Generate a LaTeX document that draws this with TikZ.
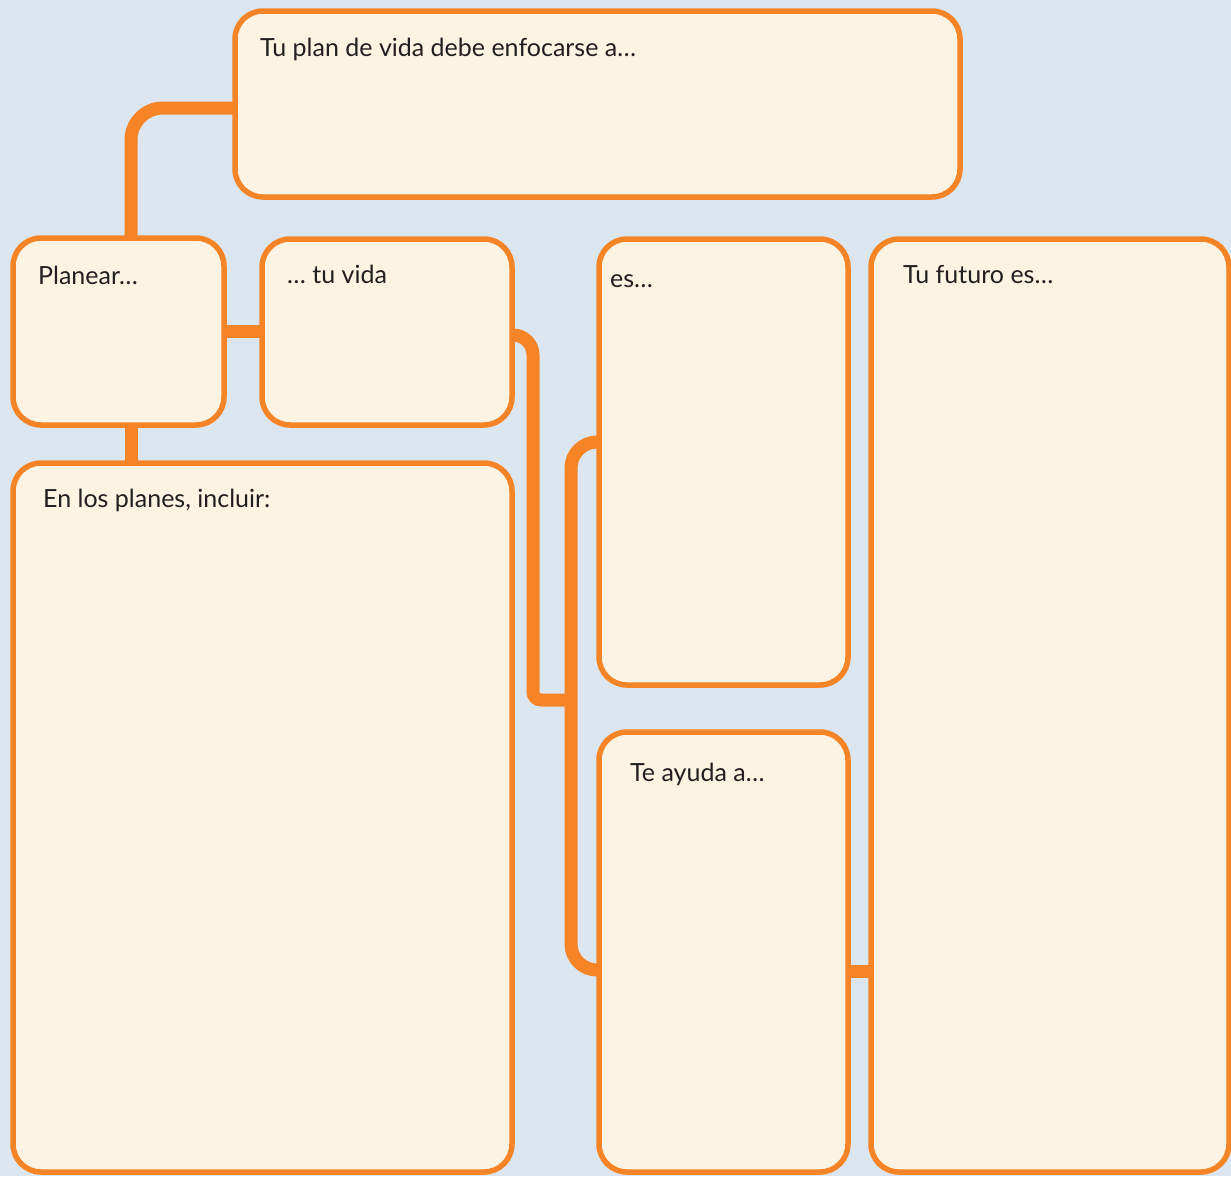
\documentclass[tikz,border=0pt]{standalone}
\usepackage{fontspec}
\setmainfont{Lato}
\usetikzlibrary{calc}
\definecolor{bg}{HTML}{DCE6F1}
\definecolor{boxfill}{HTML}{FDF3E3}
\definecolor{orng}{HTML}{F58426}
\definecolor{ink}{HTML}{231F20}
\pgfdeclarelayer{backmost}
\pgfdeclarelayer{middle}
\pgfsetlayers{backmost,middle,main}
\begin{document}
\begin{tikzpicture}[x=1pt,y=-1pt,
  box/.style={draw=orng, fill=boxfill, line width=5.5pt, rounded corners=28pt,
    inner sep=0pt, outer sep=0pt, anchor=north west, rectangle},
  conn/.style={draw=orng, line width=13pt},
  lbl/.style={anchor=base west, inner sep=0pt, text=ink,
    font=\fontsize{25}{29}\selectfont}]
\begin{pgfonlayer}{backmost}
\fill[bg] (0,0) rectangle (1231,1176);
\end{pgfonlayer}
\useasboundingbox (0,0) rectangle (1231,1176);
% boxes
\node[box, minimum width=725pt, minimum height=186pt] (top) at (235,11) {};
\node[box, minimum width=211pt, minimum height=187pt] (planear) at (13,238) {};
\node[box, minimum width=250pt, minimum height=186pt] (tuvida) at (262,239) {};
\node[box, minimum width=499pt, minimum height=709pt] (planes) at (13,463) {};
\node[box, minimum width=249pt, minimum height=446pt] (es) at (599,239) {};
\node[box, minimum width=249pt, minimum height=440pt] (ayuda) at (599,732) {};
\node[box, minimum width=358pt, minimum height=933pt] (futuro) at (871,239) {};
% labels
\node[lbl] (ltop) at (260,56) {Tu plan de vida debe enfocarse a…};
\node[lbl] (lplanear) at (38,284) {Planear…};
\node[lbl] (ltuvida) at (287,283) {… tu vida};
\node[lbl] (les) at (610,287) {es…};
\node[lbl] (lfuturo) at (903,283) {Tu futuro es…};
\node[lbl] (lplanes) at (43,507) {En los planes, incluir:};
\node[lbl] (layuda) at (630,781) {Te ayuda a…};
% connectors
\begin{pgfonlayer}{middle}
\draw[conn, rounded corners=32pt] (top.west |- 0,108) -| (131,0 |- planear.north);
\draw[conn] (planear.east |- 0,331) -- (tuvida.west |- 0,331);
\draw[conn] (131,0 |- planear.south) -- (131,0 |- planes.north);
\draw[conn] (tuvida.east |- 0,335) [rounded corners=20pt] -- (533,335) [rounded corners=8pt] -- (533,700) -- (571,700);
\draw[conn, rounded corners=26pt] (es.west |- 0,442) -- (571,442) -- (571,970) -- (ayuda.west |- 0,970);
\draw[conn] (ayuda.east |- 0,971) -- (futuro.west |- 0,971);
\end{pgfonlayer}
\end{tikzpicture}
\end{document}
